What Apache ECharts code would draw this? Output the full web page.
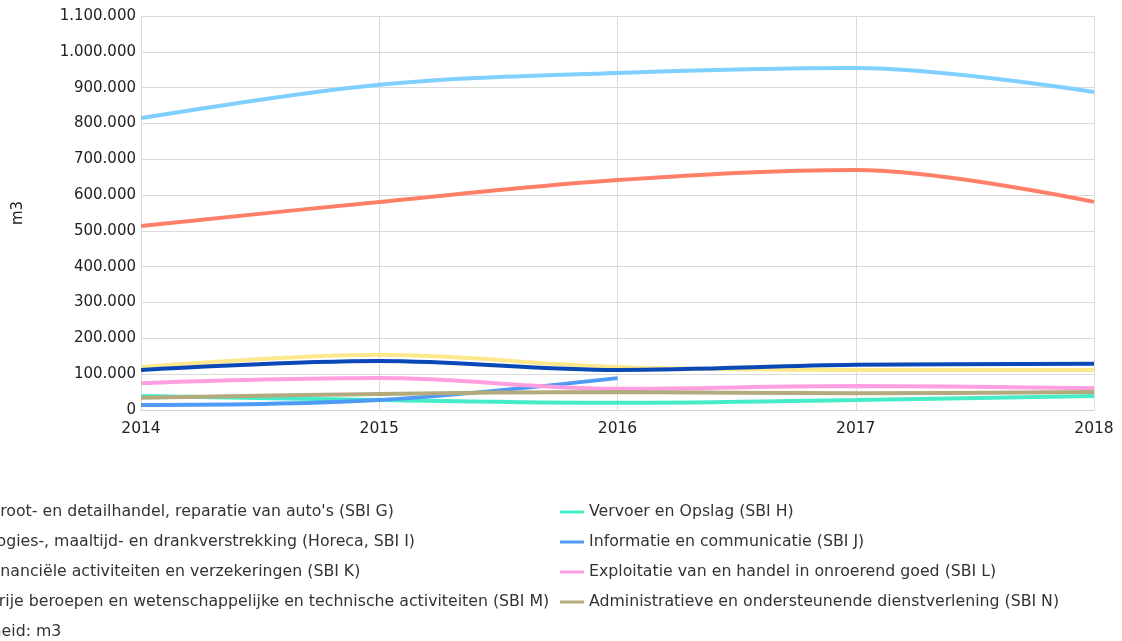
<!DOCTYPE html>
<html>
<head>
<meta charset="utf-8">
<script src="https://cdn.jsdelivr.net/npm/echarts@6/dist/echarts.min.js"></script>
<style>html,body{margin:0;padding:0;background:#fff;}#c{width:1122px;height:641px;}</style>
</head>
<body>
<div id="c"></div>
<script>
var years = ['2014', '2015', '2016', '2017', '2018'];
var seriesNames = [
  "Groot- en detailhandel, reparatie van auto's (SBI G)",
  "Vervoer en Opslag (SBI H)",
  "Logies-, maaltijd- en drankverstrekking (Horeca, SBI I)",
  "Informatie en communicatie (SBI J)",
  "Financiële activiteiten en verzekeringen (SBI K)",
  "Exploitatie van en handel in onroerend goed (SBI L)",
  "Vrije beroepen en wetenschappelijke en technische activiteiten (SBI M)",
  "Administratieve en ondersteunende dienstverlening (SBI N)"
];
var valuesG = [815000, 908000, 941000, 955000, 888000];
var valuesH = [39000, 28000, 20000, 28000, 39000];
var valuesI = [120000, 154000, 120000, 112000, 112000];
var valuesJ = [14000, 28000, 89000, null, null];
var valuesK = [112000, 137000, 112000, 126000, 129000];
var valuesL = [75000, 89000, 59000, 67000, 61000];
var valuesM = [514000, 581000, 642000, 670000, 581000];
var valuesN = [34000, 45000, 50000, 47000, 50000];
var yTicks = [0, 100000, 200000, 300000, 400000, 500000, 600000, 700000, 800000, 900000, 1000000, 1100000];
var unitNote = 'Eenheid: m3';

var allValues = [valuesG, valuesH, valuesI, valuesJ, valuesK, valuesL, valuesM, valuesN];
var colors = ['#7fcfff', '#45ecc8', '#fde98c', '#4e9bf5', '#0a48b8', '#ff9ee0', '#ff7f69', '#b3aa7e'];

function fmt(v) {
  return String(v).replace(/\B(?=(\d{3})+(?!\d))/g, '.');
}

var chart = echarts.init(document.getElementById('c'), null, {renderer: 'canvas'});
var series = seriesNames.map(function (n, i) {
  return {
    name: n,
    type: 'line',
    smooth: 0.35,
    showSymbol: false,
    symbol: 'none',
    data: allValues[i],
    lineStyle: {width: 4, color: colors[i]},
    itemStyle: {color: colors[i]},
    z: 2
  };
});
var font = 'DejaVu Sans, Verdana, sans-serif';
var legendBase = {
  orient: 'vertical',
  itemWidth: 24,
  itemHeight: 3,
  itemGap: 12,
  icon: 'rect',
  textStyle: {fontFamily: font, fontSize: 15.75, lineHeight: 18, color: '#333'},
  selectedMode: false,
  padding: 0
};
chart.setOption({
  animation: false,
  color: colors,
  grid: {left: 141, right: 28, top: 16, bottom: 231, containLabel: false},
  xAxis: {
    type: 'category',
    data: years,
    boundaryGap: false,
    axisLine: {show: true, lineStyle: {color: '#d6d6d6'}},
    axisTick: {show: false},
    axisLabel: {fontFamily: font, fontSize: 15.5, color: '#222', margin: 11},
    splitLine: {show: true, lineStyle: {color: '#dadada'}}
  },
  yAxis: {
    type: 'value',
    min: 0,
    max: yTicks[yTicks.length - 1],
    interval: 100000,
    name: 'm3',
    nameLocation: 'middle',
    nameRotate: 90,
    nameGap: 115,
    nameTextStyle: {fontFamily: font, fontSize: 15, color: '#222'},
    axisLine: {show: false},
    axisTick: {show: false},
    axisLabel: {fontFamily: font, fontSize: 15, color: '#222', margin: 5, formatter: fmt},
    splitLine: {show: true, lineStyle: {color: '#dadada'}}
  },
  legend: [
    Object.assign({}, legendBase, {
      left: -41, top: 503,
      data: [seriesNames[0], seriesNames[2], seriesNames[4], seriesNames[6]]
    }),
    Object.assign({}, legendBase, {
      left: 560, top: 503,
      data: [seriesNames[1], seriesNames[3], seriesNames[5], seriesNames[7]]
    })
  ],
  graphic: [{
    type: 'text',
    left: -38,
    top: 624,
    style: {text: unitNote, fontFamily: font, fontSize: 15.75, fill: '#333'}
  }],
  series: series
});
</script>
</body>
</html>
